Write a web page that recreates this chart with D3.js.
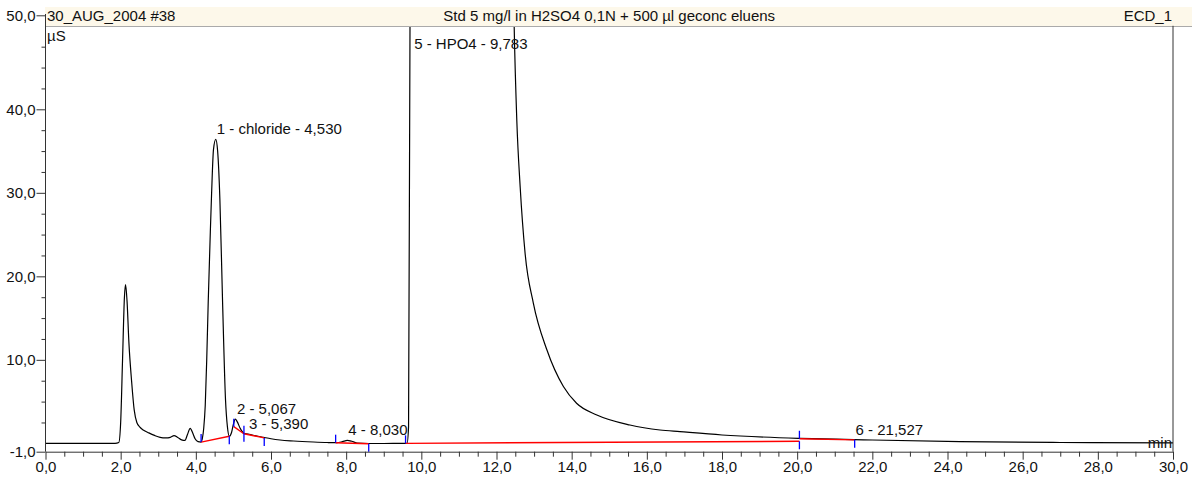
<!DOCTYPE html>
<html lang="en">
<head>
  <meta charset="UTF-8">
  <title>ECD_1 chromatogram</title>
  <style>
    body { margin: 0; background: #fff; }
    text { font-family: "Liberation Sans", Arial, sans-serif; font-size: 15px; fill: #111; }
  </style>
</head>
<body>
  <div class="canvas"></div>

  <script src="https://cdnjs.cloudflare.com/ajax/libs/d3/7.8.5/d3.min.js"></script>
  <script>
// header texts
const sampleName = '30_AUG_2004 #38';
const title = 'Std 5 mg/l in H2SO4 0,1N + 500 µl geconc eluens';
const channel = 'ECD_1';

// detector trace, time in min, signal in µS
const times = [0.0, 1.85, 1.95, 2.00, 2.05, 2.10, 2.13, 2.17, 2.22, 2.29, 2.36, 2.43, 2.52, 2.60, 2.75, 2.90,
  3.05, 3.20, 3.32, 3.42, 3.52, 3.62, 3.71, 3.78, 3.85, 3.92, 3.98, 4.06, 4.14, 4.17, 4.21, 4.25, 4.29, 4.33,
  4.38, 4.42, 4.47, 4.53, 4.58, 4.64, 4.71, 4.79, 4.84, 4.89, 4.95, 5.00, 5.05, 5.10, 5.18, 5.28,
  5.39, 5.50, 5.65, 5.80, 6.00, 6.24, 6.60, 7.13, 7.50, 7.75, 7.90, 8.03, 8.15, 8.30, 8.60, 9.00,
  9.50, 9.62, 9.66, 9.70, 9.78, 12.40, 12.47, 12.54, 12.63, 12.76, 12.98, 13.34, 13.78, 14.13, 14.67,
  15.55, 16.35, 16.88, 18.00, 20.08, 21.50, 22.00, 24.33, 27.00, 30.00];
const signal = [0.0, 0.0, 0.1, 2.5, 10.0, 17.5, 19.0, 17.0, 12.0, 7.5, 4.0, 2.5, 1.9, 1.6, 1.25, 0.95,
  0.72, 0.65, 0.72, 0.92, 0.7, 0.42, 0.35, 1.1, 1.8, 1.2, 0.55, 0.2, 0.15, 0.5, 1.8, 4.5, 10.0, 17.0,
  24.5, 30.0, 35.2, 36.4, 35.0, 29.2, 17.2, 5.2, 2.0, 0.85, 1.3, 2.3, 2.9, 2.6, 1.8, 1.2,
  1.12, 1.0, 0.85, 0.72, 0.55, 0.4, 0.28, 0.16, 0.1, 0.08, 0.2, 0.35, 0.25, 0.02, -0.02, -0.02,
  0.0, 0.0, 2.0, 52.0, 70.0, 70.0, 50.0, 38.7, 30.7, 22.8, 16.8, 11.2, 6.8, 4.8, 3.4,
  2.2, 1.6, 1.4, 1.0, 0.6, 0.45, 0.4, 0.2, 0.1, 0.05];

// integration baselines (start / end of each peak)
const baseStartT = [4.14, 5.01, 5.28, 7.72, 9.58, 20.06];
const baseStartV = [0.15, 2.0, 1.15, 0.08, 0.0, 0.55];
const baseEndT = [4.89, 5.28, 5.82, 8.60, 20.06, 21.53];
const baseEndV = [0.85, 1.15, 0.65, -0.05, 0.25, 0.42];

// peak annotations
const peakNo = [1, 2, 3, 4, 5, 6];
const peakName = ['chloride', '', '', '', 'HPO4', ''];
const peakRT = [4.530, 5.067, 5.390, 8.030, 9.783, 21.527];
const peakTop = [36.4, 2.9, 1.1, 0.35, 50, 0.45];

// axis ticks
const xTicks = d3.range(0, 31, 2);
const xMinor = d3.range(0, 30.01, 0.5).filter(d => d % 2 !== 0);
const yTicks = [-1, 10, 20, 30, 40, 50];
const yMinor = d3.range(0, 50, 2.5).filter(d => d % 10 !== 0);

const width = 1192;
const height = 479;
const plot = {left: 45.5, right: 1173, top: 25.8, bottom: 451.7};

const svg = d3.select('.canvas')
  .append('svg')
    .attr('width', width)
    .attr('height', height);

const x = d3.scaleLinear().domain([0, 30]).range([plot.left, plot.right]);
const y = d3.scaleLinear().domain([-1, 50]).range([plot.bottom, plot.top]);

// comma decimals, plain hyphen for minus
const fmt = d => d3.format('.1f')(d).replace('.', ',').replace('\u2212', '-');

// clip so the off-scale peak is cut at the top
svg.append('clipPath')
    .attr('id', 'plotClip')
  .append('rect')
    .attr('x', plot.left)
    .attr('y', plot.top)
    .attr('width', plot.right - plot.left)
    .attr('height', plot.bottom - plot.top);

// trace
const trace = times.map((t, i) => ({t, v: signal[i]}));
const line = d3.line()
  .x(d => x(d.t))
  .y(d => y(d.v))
  .curve(d3.curveMonotoneX);

svg.append('path')
  .datum(trace)
  .attr('clip-path', 'url(#plotClip)')
  .attr('fill', 'none')
  .attr('stroke', '#000')
  .attr('stroke-width', 1.2)
  .attr('d', line);

// baselines in red
const bases = baseStartT.map((t, i) => ({t0: t, v0: baseStartV[i], t1: baseEndT[i], v1: baseEndV[i]}));

svg.selectAll('line.base')
  .data(bases)
  .enter()
  .append('line')
    .attr('class', 'base')
    .attr('x1', d => x(d.t0))
    .attr('y1', d => y(d.v0))
    .attr('x2', d => x(d.t1))
    .attr('y2', d => y(d.v1))
    .attr('stroke', '#ff0000')
    .attr('stroke-width', 1.4);

// blue delimiters: up at start, down at end
svg.selectAll('line.startMark')
  .data(bases)
  .enter()
  .append('line')
    .attr('x1', d => x(d.t0))
    .attr('x2', d => x(d.t0))
    .attr('y1', d => y(d.v0))
    .attr('y2', d => y(d.v0) - 8)
    .attr('stroke', '#0000ff')
    .attr('stroke-width', 1.3);

svg.selectAll('line.endMark')
  .data(bases)
  .enter()
  .append('line')
    .attr('x1', d => x(d.t1))
    .attr('x2', d => x(d.t1))
    .attr('y1', d => y(d.v1))
    .attr('y2', d => y(d.v1) + 8)
    .attr('stroke', '#0000ff')
    .attr('stroke-width', 1.3);

// peak labels
const labelText = i => peakNo[i] + (peakName[i] ? ' - ' + peakName[i] : '') + ' - ' + d3.format('.3f')(peakRT[i]).replace('.', ',');

svg.selectAll('text.peak')
  .data(peakRT)
  .enter()
  .append('text')
    .attr('class', 'peak')
    .attr('x', d => x(d) + 1)
    .attr('y', (d, i) => Math.max(y(peakTop[i]) - 5, plot.top + 23))
    .text((d, i) => labelText(i));

// header band
svg.append('rect')
  .attr('x', 45)
  .attr('y', 7)
  .attr('width', width - 45)
  .attr('height', 19)
  .attr('fill', '#fdf8ea');

svg.append('line')
  .attr('x1', 45)
  .attr('x2', width)
  .attr('y1', 26.5)
  .attr('y2', 26.5)
  .attr('stroke', '#aaa');

svg.append('text')
  .attr('x', 47)
  .attr('y', 21)
  .text(sampleName);

svg.append('text')
  .attr('x', (plot.left + plot.right) / 2)
  .attr('y', 21)
  .attr('text-anchor', 'middle')
  .text(title);

svg.append('text')
  .attr('x', plot.right - 1)
  .attr('y', 21)
  .attr('text-anchor', 'end')
  .text(channel);

// axes
const xAxisGroup = svg.append('g')
  .attr('transform', `translate(0, ${plot.bottom})`);
const xMinorGroup = svg.append('g')
  .attr('transform', `translate(0, ${plot.bottom})`);
const yAxisGroup = svg.append('g')
  .attr('transform', `translate(${plot.left}, 0)`);
const yMinorGroup = svg.append('g')
  .attr('transform', `translate(${plot.left}, 0)`);

xAxisGroup.call(d3.axisBottom(x).tickValues(xTicks).tickSize(8).tickSizeOuter(0).tickPadding(2).tickFormat(fmt));
xMinorGroup.call(d3.axisBottom(x).tickValues(xMinor).tickSize(5).tickFormat(''));
yAxisGroup.call(d3.axisLeft(y).tickValues(yTicks).tickSize(9).tickPadding(1).tickFormat(fmt));
yMinorGroup.call(d3.axisLeft(y).tickValues(yMinor).tickSize(4).tickFormat(''));

xMinorGroup.select('.domain').remove();
yMinorGroup.select('.domain').remove();
yAxisGroup.select('.domain').remove();

// top label sits above the header edge
yAxisGroup.selectAll('.tick')
  .filter(d => d === 50)
  .attr('transform', `translate(0, ${y(50) - 10})`);

svg.selectAll('.tick text')
  .attr('font-size', 15)
  .attr('font-family', '"Liberation Sans", Arial, sans-serif')
  .attr('fill', '#111');
svg.selectAll('.tick line, .domain')
  .attr('stroke', '#333');

// y axis line & right frame
svg.append('line')
  .attr('x1', plot.left).attr('x2', plot.left)
  .attr('y1', 14).attr('y2', plot.bottom)
  .attr('stroke', '#333');

svg.append('line')
  .attr('x1', plot.right).attr('x2', plot.right)
  .attr('y1', plot.top).attr('y2', plot.bottom)
  .attr('stroke', '#333');

// units
svg.append('text')
  .attr('x', 47)
  .attr('y', 41)
  .text('µS');

svg.append('text')
  .attr('x', plot.right - 1)
  .attr('y', 448)
  .attr('text-anchor', 'end')
  .text('min');
  </script>
</body>
</html>
